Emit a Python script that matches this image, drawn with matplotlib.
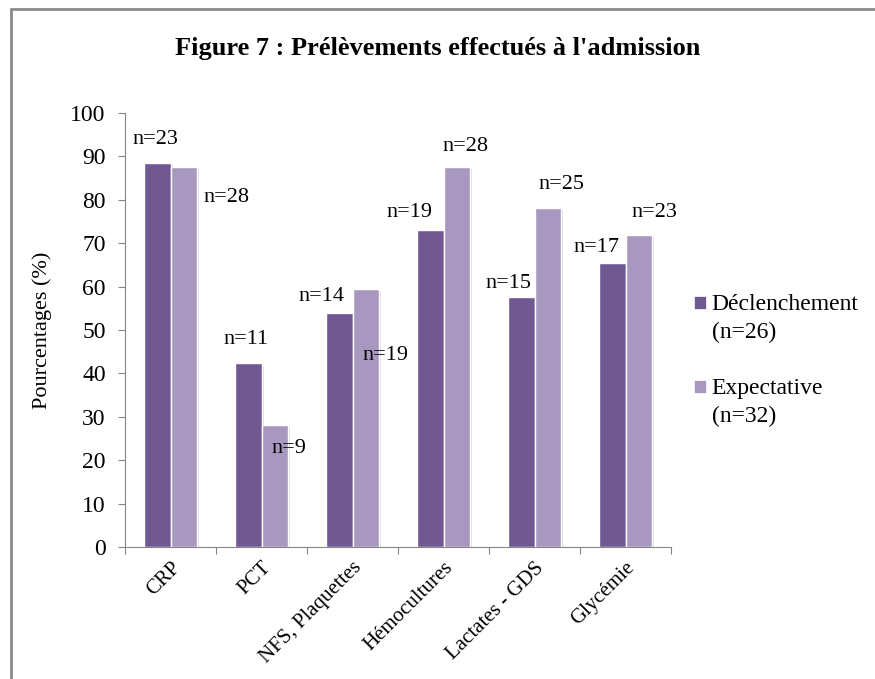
import numpy as np
import matplotlib.pyplot as plt
import matplotlib.patheffects as pe
from matplotlib.patches import Rectangle
from matplotlib.legend_handler import HandlerPatch

plt.rcParams["font.family"] = ["Liberation Serif", "DejaVu Serif"]

# ── Données ─────────────────────────────────────────────
categories = ["CRP", "PCT", "NFS, Plaquettes", "Hémocultures", "Lactates - GDS", "Glycémie"]
declenchement = [88.5, 42.3, 53.8, 73.1, 57.7, 65.4]   # % (n=26)
expectative   = [87.5, 28.1, 59.4, 87.5, 78.1, 71.9]   # % (n=32)
n_decl = [23, 11, 14, 19, 15, 17]
n_exp  = [28, 9, 19, 28, 25, 23]

# décalages (points) des étiquettes n=.. par rapport au haut de la barre
off_decl = [(-1.5, 17), (-2, 17), (-13, 12), (-15, 12), (-9, 9.5), (-11.5, 11)]
off_exp  = [(31, -22), (10, -17), (14, -48), (6.5, 15), (10, 16.5), (11.5, 16)]

COL_D = "#705891"
COL_E = "#A898C0"


class UpperPatch(HandlerPatch):
    # carré de légende aligné sur la première ligne du libellé
    def create_artists(self, legend, orig_handle, xdescent, ydescent,
                       width, height, fontsize, trans):
        p = Rectangle((-xdescent, -ydescent + fontsize * 0.66), width, height,
                      facecolor=orig_handle.get_facecolor(), edgecolor="white",
                      linewidth=0.5, transform=trans)
        return [p]


fig = plt.figure(figsize=(8.75, 6.79), dpi=100)
ax = fig.add_axes([0.143, 0.194, 0.624, 0.640])

x = np.arange(len(categories))
w = 0.29
shadow = [pe.SimplePatchShadow(offset=(1.5, -1.5), shadow_rgbFace="#999999", alpha=0.35), pe.Normal()]
b1 = ax.bar(x - w / 2, declenchement, w, color=COL_D, edgecolor="white", linewidth=1,
            path_effects=shadow)
b2 = ax.bar(x + w / 2, expectative, w, color=COL_E, edgecolor="white", linewidth=1,
            path_effects=shadow)

for bars, ns, offs in [(b1, n_decl, off_decl), (b2, n_exp, off_exp)]:
    for bar, n, off in zip(bars, ns, offs):
        ax.annotate(f"n={n}", (bar.get_x() + bar.get_width() / 2, bar.get_height()),
                    xytext=off, textcoords="offset points", ha="center", va="center",
                    fontsize=16)

ax.set_xlim(-0.5, len(categories) - 0.5)
ax.set_ylim(0, 100)
ax.set_yticks(range(0, 101, 10))
ax.set_xticks(np.arange(len(categories) + 1) - 0.5)
ax.set_xticklabels([])
ax.set_xticks(x, minor=True)
ax.set_xticklabels(categories, minor=True, rotation=45, ha="right", rotation_mode="anchor",
                   fontsize=15)
ax.tick_params(axis="x", which="minor", length=0, pad=8)
ax.tick_params(axis="x", which="major", length=5, color="#868686")
ax.tick_params(axis="y", length=5, color="#868686", labelsize=17, pad=9)
for s in ["top", "right"]:
    ax.spines[s].set_visible(False)
for s in ["left", "bottom"]:
    ax.spines[s].set_color("#868686")
ax.set_ylabel("Pourcentages (%)", fontsize=16, labelpad=13)

fig.text(0.5, 0.929, "Figure 7 : Prélèvements effectués à l'admission",
         ha="center", va="center", fontsize=19, fontweight="bold")

leg = fig.legend(handles=[b1.patches[0], b2.patches[0]],
                 labels=["Déclenchement\n(n=26)", "Expectative\n(n=32)"],
                 handler_map={Rectangle: UpperPatch()},
                 loc="center left", bbox_to_anchor=(0.793, 0.469),
                 frameon=False, fontsize=17, handlelength=0.5, handleheight=0.5,
                 handletextpad=0.25, labelspacing=1.5, borderpad=0, borderaxespad=0)
for t in leg.get_texts():
    t.set_linespacing(1.4)

fig.patches.append(Rectangle((11 / 875, -0.2), 2, 1.2 - 9 / 679, transform=fig.transFigure,
                             fill=False, edgecolor="#8a8a8a", linewidth=2))

fig.savefig("out.png", dpi=100, facecolor="white")
